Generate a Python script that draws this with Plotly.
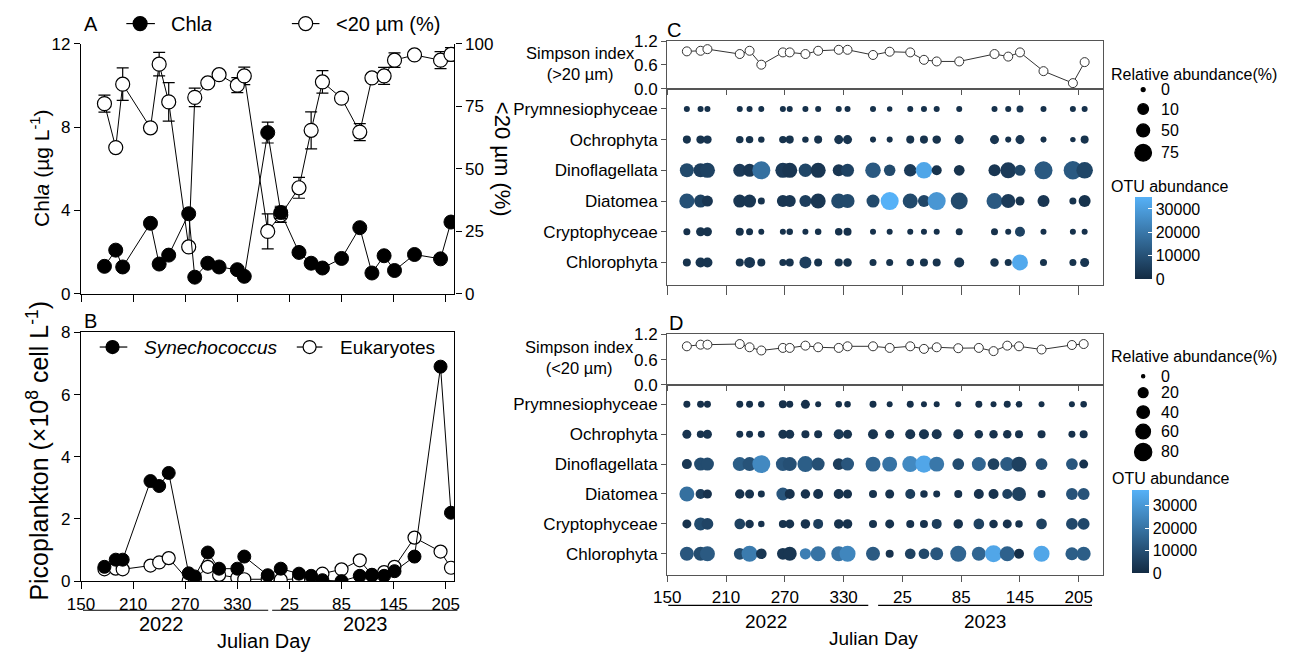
import numpy as np
import plotly.graph_objects as go

W, H = 1294, 663
FONT = "Liberation Sans, Arial, sans-serif"

# ---------------- Panels A & B: sampling days ----------------
ab_year = [2022] * 13 + [2023] * 12
ab_jd = [177, 190, 198, 230, 240, 251, 274, 281, 296, 309, 330, 338, 365,
         15, 36, 50, 63, 85, 106, 120, 134, 146, 169, 199, 211]

chla = [1.31, 2.09, 1.28, 3.38, 1.42, 1.85, 3.84, 0.79, 1.46, 1.28, 1.15, 0.83, 7.74,
        3.90, 1.98, 1.46, 1.23, 1.69, 3.17, 0.99, 1.82, 1.11, 1.88, 1.67, 3.44]
chla_err = [0, 0, 0, 0, 0, 0, 0, 0, 0, 0, 0, 0, 0.5,
            0.3, 0, 0, 0, 0, 0, 0, 0, 0, 0, 0, 0]
small_pct = [76.1, 58.5, 83.9, 66.4, 91.9, 76.8, 18.7, 78.6, 84.4, 87.7, 83.5, 87.2, 24.9,
             31.5, 42.4, 65.4, 84.8, 78.3, 64.7, 86.4, 87.2, 93.5, 95.6, 93.5, 95.8]
small_err = [3.4, 0, 6.5, 0, 4.7, 7.7, 0, 3.7, 0, 0, 3.0, 3.5, 7.0,
             3.0, 4.2, 7.4, 4.5, 0, 3.4, 0, 3.4, 2.9, 0, 3.4, 2.7]

syn = [0.46, 0.69, 0.69, 3.22, 3.06, 3.48, 0.25, 0.15, 0.92, 0.40, 0.40, 0.79, 0.19,
       0.40, 0.24, 0.17, 0.03, 0.00, 0.17, 0.19, 0.17, 0.32, 0.79, 6.90, 2.20]
euk = [0.38, 0.40, 0.38, 0.50, 0.60, 0.74, 0.01, 0.06, 0.46, 0.20, 0.11, 0.06, 0.06,
       0.04, 0.08, 0.06, 0.24, 0.38, 0.67, 0.20, 0.29, 0.46, 1.40, 0.95, 0.43]

# ---------------- Panels C & D ----------------
taxa = ["Prymnesiophyceae", "Ochrophyta", "Dinoflagellata", "Diatomea",
        "Cryptophyceae", "Chlorophyta"]

c_year = [2022] * 13 + [2023] * 11
c_jd = [170, 184, 191, 224, 234, 246, 268, 275, 291, 304, 325, 334, 360,
        12, 33, 47, 60, 83, 119, 133, 145, 169, 199, 211]
c_simpson = [0.94, 0.955, 0.996, 0.873, 0.955, 0.604, 0.914, 0.914, 0.873, 0.955, 0.98, 0.98,
             0.849, 0.931, 0.914, 0.727, 0.686, 0.686, 0.873, 0.808, 0.914, 0.441, 0.139, 0.669]
c_prym = [3, 3, 3, 3, 3, 3, 3, 3, 3, 3, 3, 3, 3, 2.2, 3, 3, 3, 3, 3, 3, 4.5, 3, 3, 3]
c_ochro = [6, 6.7, 6.7, 5.2, 5.2, 3.7, 5.2, 6, 3.7, 6, 7.5, 7.5, 3, 3, 6, 6, 6.7, 7.5, 7.5, 3, 7.5, 3, 2.2, 6]
c_dino = [57, 57, 64, 50, 50, 85, 64, 64, 53, 64, 33, 50, 67, 24, 41, 74, 9, 10, 33, 70, 15, 85, 88, 74]
c_diatom = [64, 50, 15, 50, 50, 4.5, 33, 33, 33, 64, 64, 57, 50, 85, 64, 33, 85, 77, 70, 57, 7.5, 33, 4.5, 33]
c_crypto = [4.5, 7.5, 7.5, 6, 4.5, 3, 3, 3.7, 3, 3.7, 5.2, 6, 3, 3, 3, 3, 3, 4.5, 4.5, 3, 9, 3, 3, 3]
c_chloro = [6, 9, 9, 6, 15, 6, 4.5, 6, 33, 6, 6, 6.7, 4.5, 4.5, 5.2, 6, 6, 9, 6.7, 4.5, 70, 4.5, 4.5, 7.5]

c_prym_otu = [1500, 1500, 1500, 1500, 1500, 1500, 1500, 1500, 1500, 1500, 1500, 1500, 1500,
              1500, 1500, 1500, 1500, 1500, 1500, 1500, 3000, 1500, 1500, 1500]
c_ochro_otu = [2000, 2000, 2500, 2000, 2000, 1500, 2000, 2000, 1500, 2000, 2500, 2500, 1500,
               1500, 2000, 2000, 2000, 2500, 2500, 1500, 3000, 1500, 1500, 2000]
c_dino_otu = [8000, 5000, 6000, 4000, 3000, 18000, 4000, 3000, 7000, 3000, 3000, 6000, 12000,
              8000, 4000, 32000, 2000, 2000, 3000, 4000, 7000, 12000, 12000, 7000]
c_diatom_otu = [10000, 6000, 3000, 3000, 3000, 2000, 3000, 3000, 5000, 3000, 8000, 8000, 8000,
                35000, 8000, 7000, 28000, 8000, 12000, 4000, 2000, 3000, 2000, 2000]
c_crypto_otu = [1500, 2000, 2000, 1500, 1500, 1500, 1500, 1500, 1500, 1500, 1500, 1500, 1500,
                1500, 1500, 1500, 1500, 1500, 1500, 1500, 6000, 1500, 1500, 1500]
c_chloro_otu = [2000, 2500, 2500, 2000, 3000, 2000, 2000, 2000, 5000, 2000, 2000, 2000, 2000,
                2000, 2000, 2000, 2000, 2500, 2000, 2000, 33000, 2000, 2000, 2500]

d_year = [2022] * 13 + [2023] * 12
d_jd = [170, 184, 191, 224, 234, 246, 268, 275, 291, 304, 325, 334, 360,
        12, 33, 47, 60, 82, 103, 118, 132, 144, 167, 198, 210]
d_simpson = [0.917, 0.956, 0.956, 0.971, 0.894, 0.818, 0.879, 0.879, 0.933, 0.894, 0.879, 0.917, 0.917,
             0.879, 0.917, 0.856, 0.894, 0.872, 0.879, 0.803, 0.933, 0.917, 0.841, 0.948, 0.971]
d_prym = [11, 11, 11, 11, 11, 9.6, 14, 11, 17, 8, 9.6, 9.6, 11, 8, 11, 8, 8, 8, 11, 8, 11, 9.6, 8, 8, 9.6]
d_ochro = [17, 12.5, 17, 11, 11, 11, 17, 17, 14, 14, 20, 17, 20, 17, 20, 20, 20, 20, 15.5, 15.5, 15.5, 14, 14, 11, 14]
d_dino = [20, 43, 43, 53, 53, 85, 53, 53, 70, 43, 33, 43, 62, 62, 70, 78, 62, 33, 53, 33, 53, 62, 33, 33, 17]
d_diatom = [62, 20, 17, 18.5, 17, 11, 43, 20, 18.5, 20, 20, 17, 14, 17, 20, 12.5, 11, 14, 20, 20, 20, 53, 14, 33, 33]
d_crypto = [17, 43, 33, 25, 15.5, 9.6, 14, 17, 18.5, 20, 18.5, 18.5, 14, 17, 14, 14, 20, 18.5, 25, 15.5, 17, 12.5, 25, 33, 33]
d_chloro = [53, 53, 62, 33, 70, 25, 33, 53, 29, 62, 62, 70, 53, 14, 25, 25, 43, 70, 53, 78, 62, 20, 70, 43, 53]

d_prym_otu = [1500] * 25
d_ochro_otu = [2500, 2000, 2500, 2000, 2000, 2000, 2500, 2500, 2000, 2000, 4000, 2500, 2500,
               2500, 2500, 2500, 2500, 2500, 2000, 2000, 2000, 2000, 2000, 1500, 2000]
d_dino_otu = [3000, 9000, 9000, 14000, 11000, 26000, 12000, 10000, 14000, 10000, 5000, 12000, 16000,
              20000, 26000, 34000, 21000, 9000, 16000, 6000, 13000, 6000, 10000, 12000, 2000]
d_diatom_otu = [19000, 5000, 2000, 2000, 2000, 2000, 12000, 2000, 2000, 2000, 2000, 2000, 2000,
                2000, 5000, 2000, 2000, 2000, 2000, 2000, 6000, 6000, 2000, 11000, 11000]
d_crypto_otu = [2000, 9000, 7000, 6000, 2000, 2000, 2000, 2000, 2000, 5000, 2000, 2000, 2000,
                2000, 2000, 2000, 5000, 2000, 6000, 2000, 2000, 2000, 6000, 8000, 8000]
d_chloro_otu = [12000, 9000, 13000, 9000, 22000, 3000, 3000, 3000, 23000, 20000, 20000, 25000, 13000,
                2000, 6000, 8000, 12000, 16000, 16000, 34000, 15000, 1000, 34000, 14000, 14000]

# size legends (value -> marker diameter in px)
c_size_breaks = [0, 10, 50, 75, 100]
c_size_px = [4, 10.7, 13, 16.7, 20]
d_size_breaks = [0, 20, 40, 60, 80, 100]
d_size_px = [3.3, 10, 12.7, 14.7, 17.3, 19.9]

tick_vals = [150, 210, 270, 330, 390, 450, 510, 570]
tick_text = ["150", "210", "270", "330", "25", "85", "145", "205"]
cbar_vals = [0, 10000, 20000, 30000]
cbar_text = ["0", "10000", "20000", "30000"]


def cont_day(jd, yr):
    return [d + 365 * (y - 2022) for d, y in zip(jd, yr)]


ab_x = cont_day(ab_jd, ab_year)
c_x = cont_day(c_jd, c_year)
d_x = cont_day(d_jd, d_year)

fig = go.Figure()

# ---- Panel A ----
fig.add_trace(go.Scatter(
    x=ab_x, y=small_pct, xaxis="x", yaxis="y", mode="lines+markers",
    line=dict(color="black", width=1),
    marker=dict(size=14, color="white", line=dict(color="black", width=1.2)),
    error_y=dict(type="data", array=small_err, visible=True, color="black", thickness=1.2, width=6),
    showlegend=False))
fig.add_trace(go.Scatter(
    x=ab_x, y=chla, xaxis="x", yaxis="y2", mode="lines+markers",
    line=dict(color="black", width=1),
    marker=dict(size=14, color="black", line=dict(color="black", width=1)),
    error_y=dict(type="data", array=chla_err, visible=True, color="black", thickness=1.2, width=6),
    showlegend=False))

# ---- Panel B ----
fig.add_trace(go.Scatter(
    x=ab_x, y=euk, xaxis="x2", yaxis="y3", mode="lines+markers",
    line=dict(color="black", width=1),
    marker=dict(size=13, color="white", line=dict(color="black", width=1.2)),
    showlegend=False))
fig.add_trace(go.Scatter(
    x=ab_x, y=syn, xaxis="x2", yaxis="y3", mode="lines+markers",
    line=dict(color="black", width=1),
    marker=dict(size=13, color="black", line=dict(color="black", width=1)),
    showlegend=False))


def bubbles(xs, rows, otus, breaks, pxs, xa, ya, cax):
    X, Y, S, C = [], [], [], []
    for name, vals, cols in zip(taxa, rows, otus):
        for xv, v, c in zip(xs, vals, cols):
            X.append(xv)
            Y.append(name)
            S.append(float(np.interp(v, breaks, pxs)))
            C.append(c)
    return go.Scatter(x=X, y=Y, xaxis=xa, yaxis=ya, mode="markers",
                      marker=dict(size=S, color=C, coloraxis=cax, opacity=1,
                                  line=dict(width=0)),
                      showlegend=False)


# ---- Panel C ----
fig.add_trace(go.Scatter(
    x=c_x, y=c_simpson, xaxis="x3", yaxis="y4", mode="lines+markers",
    line=dict(color="#333333", width=1),
    marker=dict(size=9, color="white", line=dict(color="#333333", width=1)),
    showlegend=False))
fig.add_trace(bubbles(c_x, [c_prym, c_ochro, c_dino, c_diatom, c_crypto, c_chloro],
                      [c_prym_otu, c_ochro_otu, c_dino_otu, c_diatom_otu, c_crypto_otu, c_chloro_otu],
                      c_size_breaks, c_size_px, "x4", "y5", "coloraxis"))

# ---- Panel D ----
fig.add_trace(go.Scatter(
    x=d_x, y=d_simpson, xaxis="x5", yaxis="y6", mode="lines+markers",
    line=dict(color="#333333", width=1),
    marker=dict(size=9, color="white", line=dict(color="#333333", width=1)),
    showlegend=False))
fig.add_trace(bubbles(d_x, [d_prym, d_ochro, d_dino, d_diatom, d_crypto, d_chloro],
                      [d_prym_otu, d_ochro_otu, d_dino_otu, d_diatom_otu, d_crypto_otu, d_chloro_otu],
                      d_size_breaks, d_size_px, "x6", "y7", "coloraxis2"))


def px_x(p):
    return p / W


def px_y(p):
    return 1 - p / H


def axis(**kw):
    base = dict(showgrid=False, zeroline=False, showline=True, linecolor="black", linewidth=1.3,
                ticks="outside", tickcolor="black", tickwidth=1.3, ticklen=6,
                tickfont=dict(family=FONT, size=17, color="black"))
    base.update(kw)
    return base


GRAY = "#555555"
xA = [px_x(68), px_x(447)]
xC = [px_x(663), px_x(1105)]
AB_RANGE = [150, 580]
CD_RANGE = [150, 594.5]
cat_order = taxa[::-1]


def cbar(xpx, ypx, length):
    return dict(x=px_x(xpx), xanchor="left", y=px_y(ypx), yanchor="middle",
                len=length, lenmode="pixels", thickness=17, thicknessmode="pixels",
                xpad=0, ypad=0, outlinewidth=0, tickvals=cbar_vals, ticktext=cbar_text,
                ticks="inside", tickcolor="white", ticklen=4,
                tickfont=dict(family=FONT, size=16, color="black"))


layout = dict(
    width=W, height=H, autosize=False,
    margin=dict(l=0, r=0, t=0, b=0, pad=0),
    paper_bgcolor="white", plot_bgcolor="rgba(0,0,0,0)",
    font=dict(family=FONT, color="black"),
    showlegend=False,
    xaxis=axis(domain=xA, anchor="y", range=AB_RANGE, tickvals=tick_vals, showticklabels=False, ticklen=7),
    yaxis=axis(domain=[px_y(293), px_y(36)], anchor="x", side="right", range=[0, 100],
               tickvals=[0, 25, 50, 75, 100]),
    yaxis2=axis(overlaying="y", anchor="x", side="left", range=[0, 12], tickvals=[0, 4, 8, 12]),
    xaxis2=axis(domain=xA, anchor="y3", range=AB_RANGE, tickvals=tick_vals, ticktext=tick_text,
                ticklen=7, mirror=True, tickfont=dict(family=FONT, size=17, color="black")),
    yaxis3=axis(domain=[px_y(589), px_y(333)], anchor="x2", range=[0, 8], tickvals=[0, 2, 4, 6, 8],
                mirror=True),
    xaxis3=axis(domain=xC, anchor="y4", range=CD_RANGE, tickvals=tick_vals, showticklabels=False,
                ticklen=5, mirror=True, linecolor=GRAY, tickcolor=GRAY),
    yaxis4=axis(domain=[px_y(82), px_y(33)], anchor="x3", range=[0, 1.2], tickvals=[0, 0.6, 1.2],
                ticktext=["0.0", "0.6", "1.2"], ticklen=5, mirror=True, linecolor=GRAY, tickcolor=GRAY),
    xaxis4=axis(domain=xC, anchor="y5", range=CD_RANGE, tickvals=tick_vals, showticklabels=False,
                ticklen=9, mirror=True, linecolor=GRAY, tickcolor=GRAY),
    yaxis5=axis(domain=[px_y(284), px_y(82)], anchor="x4", type="category",
                categoryorder="array", categoryarray=cat_order, range=[-0.73, 5.66],
                ticklen=5, mirror=True, linecolor=GRAY, tickcolor=GRAY),
    xaxis5=axis(domain=xC, anchor="y6", range=CD_RANGE, tickvals=tick_vals, showticklabels=False,
                ticklen=5, mirror=True, linecolor=GRAY, tickcolor=GRAY),
    yaxis6=axis(domain=[px_y(387), px_y(335)], anchor="x5", range=[0, 1.2], tickvals=[0, 0.6, 1.2],
                ticktext=["0.0", "0.6", "1.2"], ticklen=5, mirror=True, linecolor=GRAY, tickcolor=GRAY),
    xaxis6=axis(domain=xC, anchor="y7", range=CD_RANGE, tickvals=tick_vals, ticktext=tick_text,
                ticklen=6, mirror=True, linecolor=GRAY, tickcolor=GRAY),
    yaxis7=axis(domain=[px_y(583), px_y(387)], anchor="x6", type="category",
                categoryorder="array", categoryarray=cat_order, range=[-0.72, 5.65],
                ticklen=5, mirror=True, linecolor=GRAY, tickcolor=GRAY),
    coloraxis=dict(colorscale=[[0, "#132B43"], [1, "#56B1F7"]], cmin=0, cmax=35000,
                   colorbar=cbar(1138, 236, 82)),
    coloraxis2=dict(colorscale=[[0, "#132B43"], [1, "#56B1F7"]], cmin=0, cmax=37000,
                    colorbar=cbar(1135, 538, 83)),
)
fig.update_layout(**layout)

ann = []
shapes = []


def text(px, py, s, size=17, xanchor="center", angle=0):
    ann.append(dict(x=px_x(px), y=px_y(py), xref="paper", yref="paper", text=s, showarrow=False,
                    xanchor=xanchor, yanchor="middle", textangle=angle,
                    font=dict(family=FONT, size=size, color="black")))


def line(x0, y0, x1, y1, color="black", width=1.2):
    shapes.append(dict(type="line", xref="paper", yref="paper", x0=px_x(x0), x1=px_x(x1),
                       y0=px_y(y0), y1=px_y(y1), line=dict(color=color, width=width)))


def circle(cx, cy, d, fill, outline="black"):
    shapes.append(dict(type="circle", xref="paper", yref="paper", xsizemode="pixel", ysizemode="pixel",
                       xanchor=px_x(cx), yanchor=px_y(cy), x0=-d / 2, x1=d / 2, y0=-d / 2, y1=d / 2,
                       fillcolor=fill, line=dict(color=outline, width=1.2)))


# panel letters
text(78, 15, "A", 20)
text(78, 321, "B", 20)
text(670, 22, "C", 20)
text(672, 323, "D", 20)

# Panel A legend
line(114, 15, 143, 15)
circle(128, 15, 14, "black")
text(157, 15, "Chl<i>a</i>", 20, "left")
line(282, 15, 310, 15)
circle(296, 15, 14, "white")
text(325, 15, "<20 µm (%)", 20, "left")

# Panel B legend
line(87, 348, 115, 348)
circle(100, 348, 13, "black")
text(130, 348, "<i>Synechococcus</i>", 19, "left")
line(287, 348, 313, 348)
circle(300, 348, 13, "white")
text(329, 348, "Eukaryotes", 19, "left")

# axis titles
text(27, 164, "Chl<i>a</i> (µg L<sup>-1</sup>)", 21, angle=-90)
text(496, 155, "<20 µm (%)", 22, angle=90)
text(24, 455, "Picoplankton (×10<sup>8</sup> cell L<sup>-1</sup>)", 25, angle=-90)

# year underlines & labels (B)
line(70, 619, 258, 619)
line(262, 619, 450, 619)
text(150, 633, "2022", 20)
text(357, 633, "2023", 20)
text(253, 651, "Julian Day", 20)

# year underlines & labels (D)
line(664, 614, 867, 614)
line(877, 614, 1094, 614)
text(763, 631, "2022", 19)
text(985, 631, "2023", 19)
text(872, 648, "Julian Day", 19)

# Simpson labels
text(575, 56, "Simpson index<br>(>20 µm)", 16.5)
text(574, 359, "Simpson index<br>(<20 µm)", 16.5)

# size legend C
text(1111, 67, "Relative abundance(%)", 16, "left")
for v, cy in zip([0, 10, 50, 75], [83, 103, 125, 148]):
    circle(1146, cy, float(np.interp(v, c_size_breaks, c_size_px)), "black")
    text(1162, cy, str(v), 16, "left")
text(1111, 183, "OTU abundance", 16, "left")

# size legend D
text(1111, 358, "Relative abundance(%)", 16, "left")
for v, cy in zip([0, 20, 40, 60, 80], [378, 395, 415, 435, 456]):
    circle(1146, cy, float(np.interp(v, d_size_breaks, d_size_px)), "black")
    text(1162, cy, str(v), 16, "left")
text(1112, 483, "OTU abundance", 16, "left")

fig.update_layout(annotations=ann, shapes=shapes)
fig.write_html("out.html")
